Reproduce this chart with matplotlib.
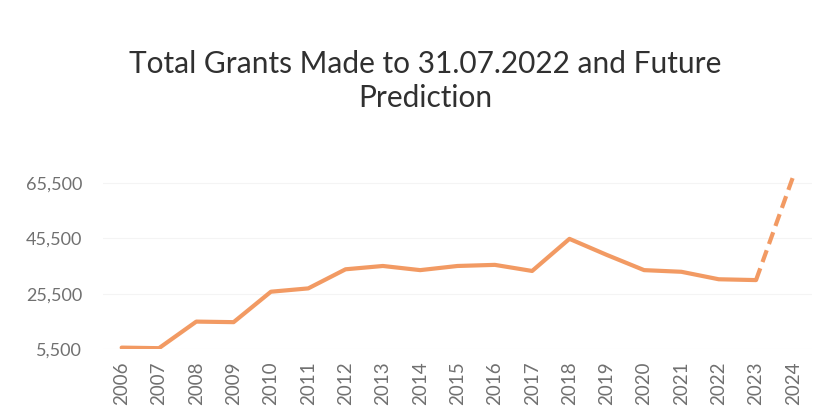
import matplotlib
matplotlib.use("Agg")
import matplotlib.pyplot as plt
from matplotlib.ticker import FuncFormatter

years = ["2006", "2007", "2008", "2009", "2010", "2011", "2012", "2013", "2014",
         "2015", "2016", "2017", "2018", "2019", "2020", "2021", "2022", "2023", "2024"]
actual = [6000, 5800, 15400, 15200, 26200, 27400, 34300, 35500, 34000,
          35500, 35900, 33700, 45300, 39500, 34000, 33400, 30700, 30400]
prediction_years = ["2023", "2024"]
prediction = [30400, 68000]
yticks = [5500, 25500, 45500, 65500]

plt.rcParams['font.family'] = ['Lato', 'DejaVu Sans']
fig = plt.figure(figsize=(8.24, 4.19), dpi=100)
ax = fig.add_axes([103/824, 1 - 349/419, (812 - 103)/824, (349 - 170.5)/419])

x_actual = [years.index(y) for y in years[:len(actual)]]
x_pred = [years.index(y) for y in prediction_years]
color = "#F29A63"
ax.plot(x_actual, actual, color=color, lw=3.0, solid_capstyle='round', solid_joinstyle='round')
ax.plot(x_pred, prediction, color=color, lw=3.0, dashes=(3, 1.6))

ax.set_xlim(-0.5, len(years) - 0.5)
ax.set_ylim(5500, 70000)
ax.set_xticks(range(len(years)))
ax.set_xticklabels(years, rotation=90, fontsize=13.5, color="#707070")
ax.set_yticks(yticks)
ax.yaxis.set_major_formatter(FuncFormatter(lambda v, p: f"{int(v):,}"))
ax.tick_params(axis='y', labelsize=13, colors="#707070", length=0, pad=15)
ax.tick_params(axis='x', length=0, pad=9)
ax.grid(axis='y', color="#F4F4F4", lw=0.8)
ax.set_axisbelow(True)
for s in ax.spines.values():
    s.set_visible(False)

fig.text(425/824, 1 - 81/419, "Total Grants Made to 31.07.2022 and Future\nPrediction",
         ha='center', va='center', fontsize=21.5, color="#303030", linespacing=1.3)

fig.savefig("out.png", dpi=100, facecolor="white")
